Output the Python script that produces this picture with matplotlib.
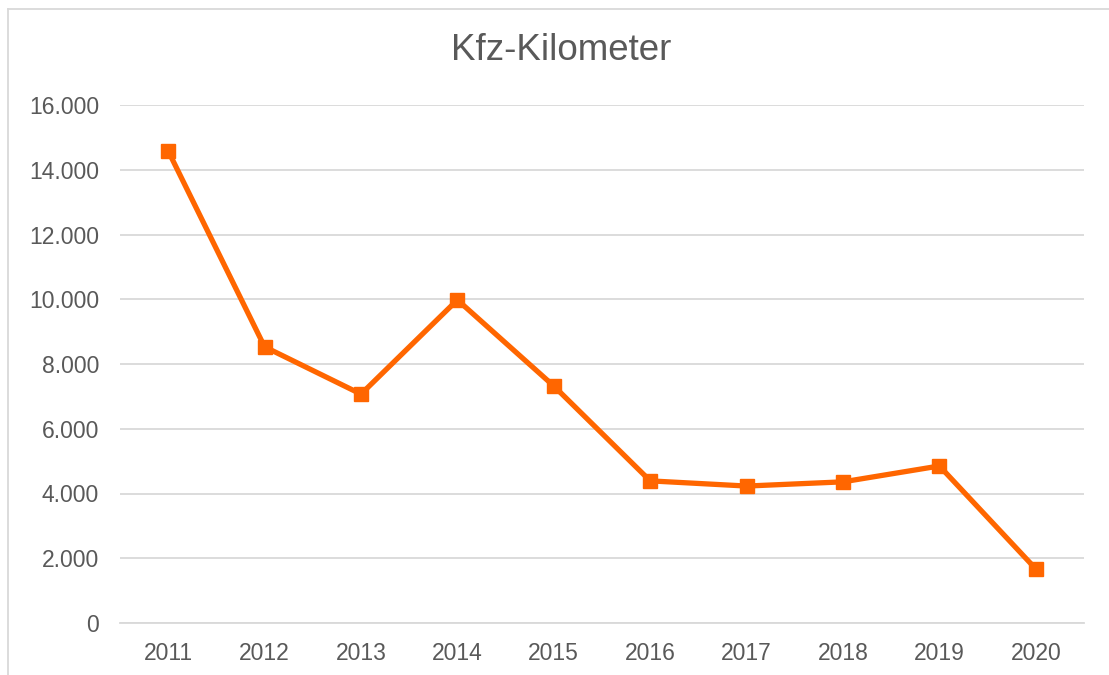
import matplotlib
matplotlib.use("Agg")
import matplotlib.pyplot as plt
from matplotlib.lines import Line2D
from matplotlib.ticker import FuncFormatter

years = ["2011", "2012", "2013", "2014", "2015", "2016", "2017", "2018", "2019", "2020"]
values = [14580, 8530, 7070, 9980, 7320, 4390, 4230, 4360, 4850, 1670]
title = "Kfz-Kilometer"

plt.rcParams['font.family'] = ['Liberation Sans', 'DejaVu Sans']

fig = plt.figure(figsize=(11.09, 6.75), dpi=100)
ax = fig.add_axes([120/1109, 1 - 623/675, (1084-120)/1109, (623-105)/675])

x = list(range(len(years)))
ax.plot(x, values, color="#FF6600", lw=3.8, marker="s", markersize=10.5, zorder=3,
        solid_joinstyle="round")
ax.set_xlim(-0.5, len(years) - 0.5)
ax.set_ylim(0, 16000)
ax.set_yticks(range(0, 16001, 2000))
ax.yaxis.set_major_formatter(FuncFormatter(lambda v, p: f"{int(v):,}".replace(",", ".")))
ax.set_xticks(x)
ax.set_xticklabels(years)
ax.grid(axis="y", color="#D9D9D9", lw=1.3)
ax.set_axisbelow(True)
for s in ["top", "right", "left"]:
    ax.spines[s].set_visible(False)
ax.spines["bottom"].set_color("#D9D9D9")
ax.spines["bottom"].set_linewidth(1.3)
ax.tick_params(length=0, labelsize=16.5, colors="#595959")
ax.tick_params(axis="y", pad=15)
ax.tick_params(axis="x", pad=14)

fig.text(561/1109, 1 - 50/675, title, ha="center", va="center", fontsize=26.5, color="#595959")

# chart border
fig.add_artist(Line2D([8/1109, 8/1109], [0, 1 - 9/675], transform=fig.transFigure, color="#D9D9D9", lw=1.3))
fig.add_artist(Line2D([8/1109, 1], [1 - 9/675, 1 - 9/675], transform=fig.transFigure, color="#D9D9D9", lw=1.3))

fig.savefig("out.png", dpi=100)
